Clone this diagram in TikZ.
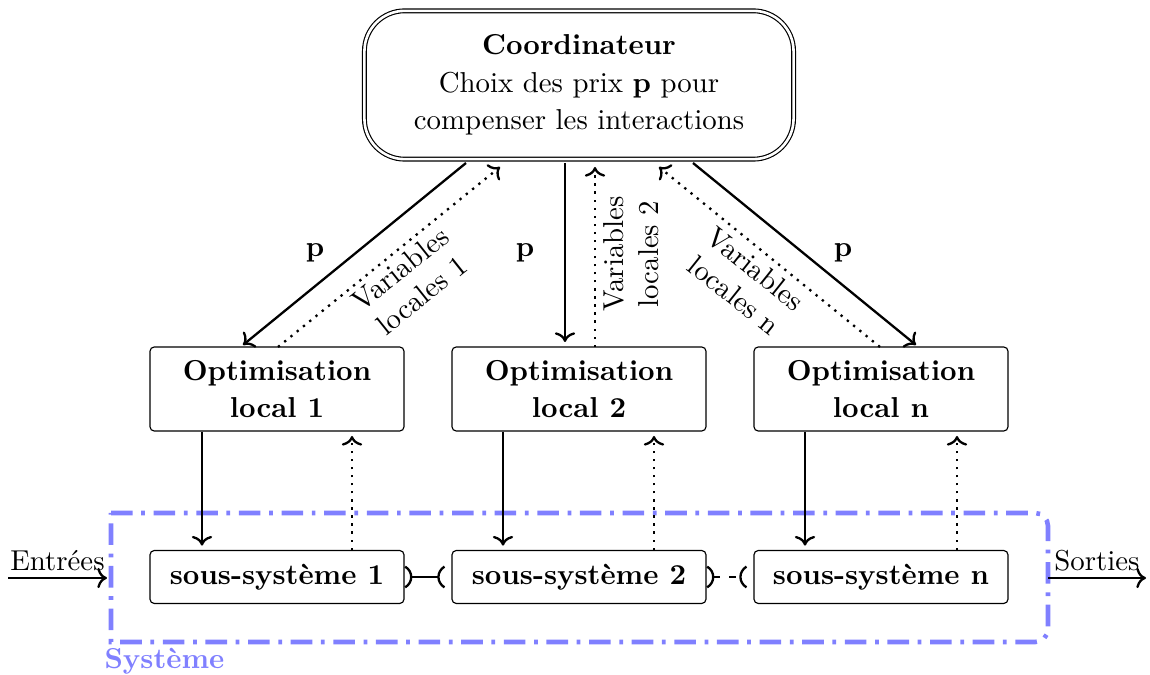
\documentclass[tikz,border=0pt]{standalone}
\usetikzlibrary{arrows.meta}
\definecolor{sysblue}{RGB}{128,128,255}
\begin{document}
\begin{tikzpicture}[x=0.3472pt,y=-0.3472pt,
  coord/.style={draw,double,double distance=0.9pt,rounded corners=14pt,minimum width=149pt,minimum height=51.5pt,align=center,inner sep=0pt},
  optbox/.style={draw,rounded corners=1.5pt,minimum width=88.2pt,minimum height=29.2pt,align=center,font=\bfseries,inner sep=0pt},
  subbox/.style={draw,rounded corners=1.5pt,minimum width=88.2pt,minimum height=18.4pt,font=\bfseries,inner sep=0pt},
  sol/.style={thick,->},
  dot/.style={thick,dotted,->},
  lbl/.style={align=center,inner sep=1pt},
  paren/.style={thick}
]
\useasboundingbox (0,0) rectangle (1150,675);
% system frame
\draw[sysblue,line width=1.6pt,dash pattern=on 7.5pt off 3pt on 1.3pt off 3pt]
  (111,513) {[rounded corners=4.5pt] -- (1048,513) -- (1048,642)} -- (111,642) -- cycle;
\node[sysblue,font=\bfseries,anchor=west,inner sep=0pt] (sys) at (104,661) {Système};

\node[coord] (C) at (579,85) {\textbf{Coordinateur}\\[1pt]Choix des prix \textbf{p} pour\\[1pt]compenser les interactions};

\node[optbox] (O1) at (277,389) {Optimisation\\[0.8pt]local 1};
\node[optbox] (O2) at (579,389) {Optimisation\\[0.8pt]local 2};
\node[optbox] (O3) at (881,389) {Optimisation\\[0.8pt]local n};

\node[subbox] (S1) at (277,577) {sous-système 1};
\node[subbox] (S2) at (579,577) {sous-système 2};
\node[subbox] (S3) at (881,577) {sous-système n};

% coordinator links
\coordinate (c1a) at (466,163); \coordinate (o1a) at (243,345);
\coordinate (o1b) at (278,347); \coordinate (c1b) at (500,167);
\coordinate (c2a) at (565,163); \coordinate (o2a) at (565,342);
\coordinate (o2b) at (595,347); \coordinate (c2b) at (595,167);
\coordinate (o3b) at (880,347); \coordinate (c3b) at (659,167);
\coordinate (c3a) at (693,163); \coordinate (o3a) at (916,345);
\draw[sol] (c1a) -- (o1a);
\draw[dot] (o1b) -- (c1b);
\draw[sol] (c2a) -- (o2a);
\draw[dot] (o2b) -- (c2b);
\draw[dot] (o3b) -- (c3b);
\draw[sol] (c3a) -- (o3a);

\node (p1) at (315,253) {\textbf{p}};
\node (p2) at (525,253) {\textbf{p}};
\node (p3) at (843,253) {\textbf{p}};
\node[lbl,rotate=38.6] (v1) at (411,282) {Variables\\locales 1};
\node[lbl,rotate=90] (v2) at (631,254) {Variables\\locales 2};
\node[lbl,rotate=-38.6] (v3) at (745,282) {Variables\\locales n};

% optimisation to subsystems
\foreach \i/\a/\b in {1/202/352,2/503/654,3/805/957}{
  \draw[sol] (O\i.south -| \a,0) -- ([yshift=1.5pt]S\i.north -| \a,0);
  \draw[dot] (S\i.north -| \b,0) -- ([yshift=-1.5pt]O\i.south -| \b,0);
}

% interconnections
\coordinate (r1) at ([xshift=0.2pt]S1.east);
\coordinate (l2) at ([xshift=-2.4pt]S2.west);
\coordinate (r2) at ([xshift=0.2pt]S2.east);
\coordinate (l3) at ([xshift=-2.4pt]S3.west);
\foreach \p in {r1,r2}{
  \draw[paren] ([yshift=3.6pt]\p) .. controls ([xshift=2.8pt,yshift=1.9pt]\p) and ([xshift=2.8pt,yshift=-1.9pt]\p) .. ([yshift=-3.6pt]\p);
}
\foreach \p in {l2,l3}{
  \draw[paren] ([yshift=3.6pt]\p) .. controls ([xshift=-2.8pt,yshift=1.9pt]\p) and ([xshift=-2.8pt,yshift=-1.9pt]\p) .. ([yshift=-3.6pt]\p);
}
\draw[thick] ([xshift=2.1pt]r1) -- ([xshift=-2.1pt]l2);
\draw[thick,dash pattern=on 2.4pt off 3.1pt] ([xshift=2.1pt]r2) -- ([xshift=-2.1pt]l3);

% inputs / outputs
\coordinate (in0) at (8,578); \coordinate (in1) at (107,578);
\coordinate (out0) at (1048,578); \coordinate (out1) at (1146,578);
\draw[sol] (in0) -- node[above,inner sep=2pt] (ent) {Entrées} (in1);
\draw[sol] (out0) -- node[above,inner sep=2pt] (sor) {Sorties} (out1);
\end{tikzpicture}
\end{document}
